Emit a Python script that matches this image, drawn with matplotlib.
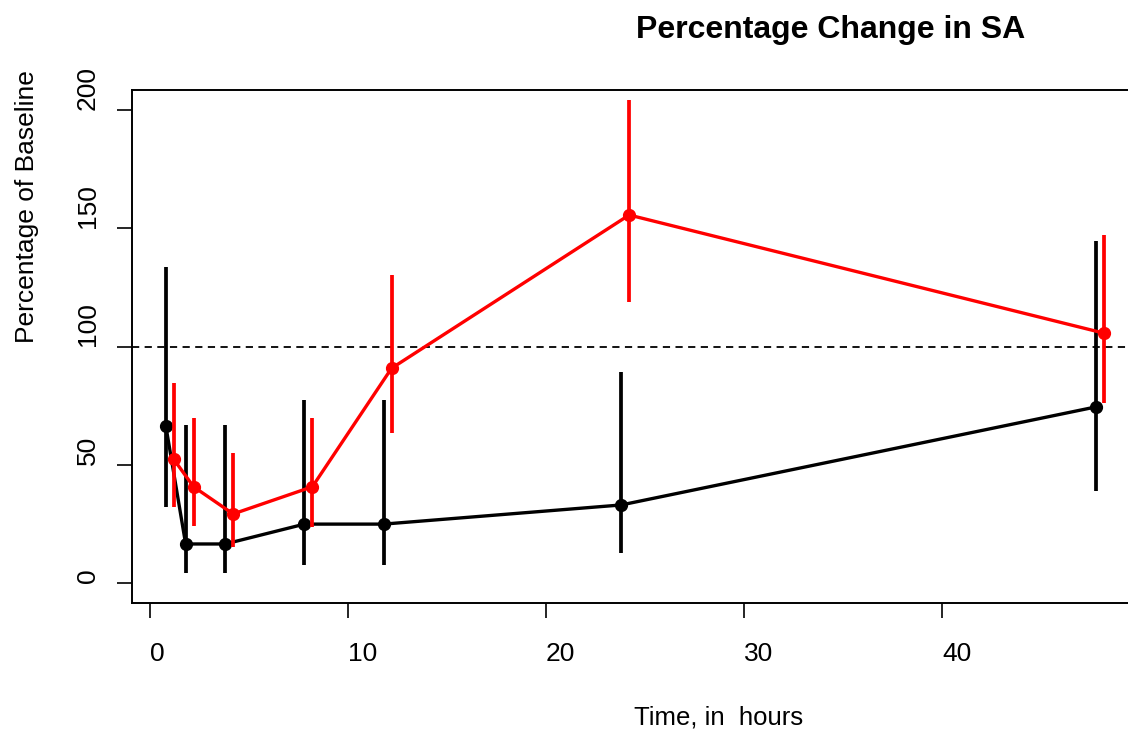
import matplotlib.pyplot as plt
import numpy as np

plt.rcParams["font.family"] = ["Liberation Sans", "DejaVu Sans"]

# time points (hours)
hours = [1, 2, 4, 8, 12, 24, 48]

# black series
black_mean = [66.4, 16.5, 16.5, 24.9, 24.9, 33.0, 74.5]
black_lo = [32.3, 4.1, 4.1, 7.6, 7.6, 12.5, 39.0]
black_hi = [133.7, 66.8, 66.8, 77.4, 77.4, 89.3, 144.7]

# red series
red_mean = [52.3, 40.7, 29.2, 40.7, 90.8, 155.6, 105.6]
red_lo = [32.3, 24.1, 15.4, 23.8, 63.6, 118.9, 76.2]
red_hi = [84.4, 69.6, 55.1, 69.6, 130.2, 204.2, 147.1]

baseline = 100
x_ticks = [0, 10, 20, 30, 40]
y_ticks = [0, 50, 100, 150, 200]

W, H = 1128, 731
fig = plt.figure(figsize=(W / 100, H / 100), dpi=100)
left, right, top, bottom = 132, 1140, 90, 603
ax = fig.add_axes([left / W, 1 - bottom / H, (right - left) / W, (bottom - top) / H])

t = np.array(hours, dtype=float)
dodge = 0.2
tb = t - dodge
tr = t + dodge

ax.axhline(baseline, color="black", lw=1.3, ls=(0, (4, 3)), zorder=1)

ax.vlines(tb, black_lo, black_hi, color="black", lw=2.7, zorder=2)
ax.plot(tb, black_mean, color="black", lw=2.4, marker="o", ms=8.5, zorder=3)

ax.vlines(tr, red_lo, red_hi, color="#ff0000", lw=2.7, zorder=4)
ax.plot(tr, red_mean, color="#ff0000", lw=2.4, marker="o", ms=8.5, zorder=5)

ax.set_xlim((left - 150) / 19.8, (right - 150) / 19.8)
ax.set_ylim((583 - bottom) / 2.365, (583 - top) / 2.365)

ax.set_xticks(x_ticks)
ax.set_xticklabels([str(v) for v in x_ticks], ha="left")
ax.set_yticks(y_ticks)
ax.set_yticklabels([str(v) for v in y_ticks], rotation=90, va="bottom", ha="right")

ax.tick_params(axis="x", length=11, width=1.2, pad=17, labelsize=19)
ax.tick_params(axis="y", length=11, width=1.2, pad=12, labelsize=19)

ax.spines["right"].set_visible(False)
for s in ["left", "top", "bottom"]:
    ax.spines[s].set_linewidth(1.4)

ax.set_xlabel("Time, in  hours", fontsize=18.5)
ax.xaxis.set_label_coords((719 - left) / (right - left), -(717 - bottom) / (bottom - top))
ax.set_ylabel("Percentage of Baseline", fontsize=19)
ax.yaxis.set_label_coords(-(left - 27) / (right - left), (bottom - 207) / (bottom - top))
ax.xaxis.label.set_va("center")
ax.yaxis.label.set_va("center")

fig.text(831 / W, 1 - 30 / H, "Percentage Change in SA", fontsize=23,
         fontweight="bold", ha="center", va="center")

fig.savefig("out.png", dpi=100)
